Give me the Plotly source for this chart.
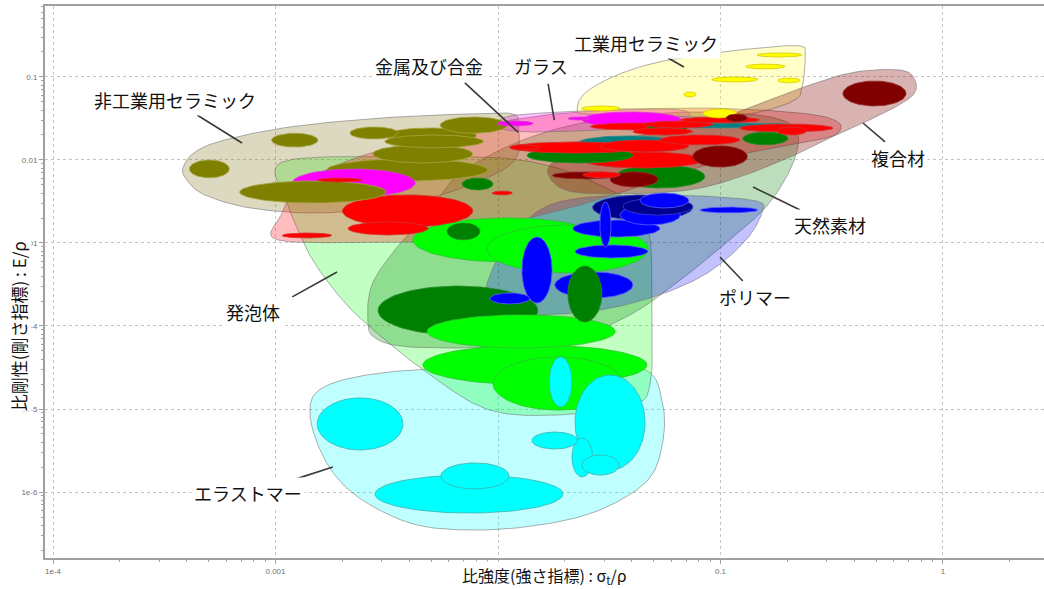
import numpy as np
import plotly.graph_objects as go

# ---------------------------------------------------------------------------
# Material property ranges: (sigma/rho lo, sigma/rho hi, E/rho lo, E/rho hi)
# ---------------------------------------------------------------------------
NONTECH_CERAMICS = [
    (4.1e-4, 6.2e-4, 6.1e-3, 1.0e-2),
    (9.6e-4, 1.55e-3, 1.43e-2, 2.1e-2),
    (2.16e-3, 3.55e-3, 1.79e-2, 2.5e-2),
    (5.5e-3, 1.1e-2, 2.1e-2, 3.3e-2),
    (3.1e-3, 8.0e-3, 1.6e-2, 2.43e-2),
    (3.1e-3, 8.6e-3, 1.4e-2, 2.0e-2),
    (2.74e-3, 7.7e-3, 9.2e-3, 1.52e-2),
    (1.7e-3, 9.0e-3, 5.58e-3, 1.03e-2),
    (6.9e-4, 3.14e-3, 3.03e-3, 5.58e-3),
]
GLASSES = [
    (1.19e-3, 4.24e-3, 3.58e-3, 7.79e-3),
    (9.9e-3, 1.44e-2, 2.57e-2, 2.95e-2),
    (2.38e-2, 6.6e-2, 2.5e-2, 3.79e-2),
    (2.06e-2, 2.6e-2, 3.03e-2, 3.3e-2),
]
METALS = [
    (1.13e-2, 4.48e-2, 1.21e-2, 1.65e-2),
    (2.41e-2, 8.34e-2, 8.0e-3, 1.25e-2),
    (5.34e-2, 0.122, 1.52e-2, 2.0e-2),
    (0.122, 0.32, 2.17e-2, 2.71e-2),
    (0.179, 0.244, 2.0e-2, 2.5e-2),
    (4.48e-2, 9.24e-2, 2.43e-2, 2.95e-2),
    (6.6e-2, 0.15, 2.79e-2, 3.3e-2),
    (2.6e-2, 6.4e-2, 2.3e-2, 2.79e-2),
    (4.04e-2, 7.5e-2, 2.0e-2, 2.43e-2),
    (2.41e-2, 3.54e-2, 6.1e-3, 7.2e-3),
    (2.0e-3, 7.7e-3, 1.56e-3, 3.79e-3),
    (2.12e-3, 4.85e-3, 1.25e-3, 1.79e-3),
    (1.07e-3, 1.79e-3, 1.15e-3, 1.32e-3),
    (9.4e-3, 1.16e-2, 3.79e-3, 4.23e-3),
    (1.54e-3, 2.45e-3, 5.43e-3, 6.07e-3),
    (1.13e-2, 1.54e-2, 1.32e-2, 1.52e-2),
    (2.87e-2, 7.2e-2, 1.25e-2, 1.74e-2),
]
NONFERROUS = [
    (2.26e-2, 6.58e-2, 1.28e-2, 1.95e-2),
    (4.48e-2, 0.228, 2.43e-2, 2.79e-2),
]
NATURAL = [
    (1.35e-2, 4.04e-2, 9.2e-3, 1.4e-2),
    (3.36e-2, 8.5e-2, 4.6e-3, 8.7e-3),
    (4.67e-2, 7.06e-2, 2.0e-2, 2.87e-2),
    (0.126, 0.201, 1.52e-2, 2.17e-2),
    (6.9e-3, 9.5e-3, 4.35e-3, 6.07e-3),
    (5.9e-3, 8.3e-3, 1.09e-3, 1.74e-3),
    (2.89e-3, 1.51e-2, 7.8e-5, 3.03e-4),
    (2.06e-2, 2.93e-2, 1.12e-4, 5.28e-4),
]
COMPOSITES = [
    (0.355, 0.682, 4.47e-2, 8.95e-2),
    (0.106, 0.132, 2.87e-2, 3.58e-2),
    (7.5e-2, 0.132, 8.2e-3, 1.48e-2),
    (1.75e-2, 3.43e-2, 5.9e-3, 7.2e-3),
    (3.19e-2, 5.24e-2, 4.73e-3, 7.2e-3),
]
TECH_CERAMICS = [
    (0.146, 0.232, 0.174, 0.195),
    (0.13, 0.195, 0.125, 0.143),
    (9.14e-2, 0.147, 8.7e-2, 0.1),
    (0.181, 0.228, 8.5e-2, 9.7e-2),
    (6.85e-2, 7.76e-2, 5.74e-2, 6.6e-2),
    (2.38e-2, 3.54e-2, 3.9e-2, 4.47e-2),
    (8.34e-2, 0.119, 3.21e-2, 4.12e-2),
]
POLYMERS = [
    (2.17e-2, 5.34e-2, 1.18e-3, 1.89e-3),
    (2.87e-2, 3.22e-2, 8.95e-4, 3.12e-3),
    (2.22e-2, 4.72e-2, 6.6e-4, 9.46e-4),
    (8.09e-2, 0.147, 2.3e-3, 2.71e-3),
    (1.28e-2, 1.75e-2, 1.89e-4, 1.18e-3),
    (1.80e-2, 4.04e-2, 2.17e-4, 4.48e-4),
    (9.2e-3, 1.39e-2, 1.84e-4, 2.5e-4),
    (3.54e-2, 6.6e-2, 1.65e-3, 2.87e-3),
    (4.35e-2, 7.2e-2, 2.64e-3, 4.0e-3),
]
POLYMERS_DARK = [
    (2.66e-2, 7.5e-2, 1.89e-3, 3.79e-3),
    (3.65e-2, 7.5e-2, 2.17e-3, 3.48e-3),
]
FOAMS = [
    (4.15e-3, 2.93e-2, 5.9e-4, 2.0e-3),
    (8.93e-3, 4.72e-2, 4.35e-4, 1.65e-3),
    (4.8e-3, 3.36e-2, 5.43e-5, 1.36e-4),
    (4.6e-3, 4.67e-2, 1.95e-5, 5.9e-5),
    (9.5e-3, 3.65e-2, 9.7e-6, 4.23e-5),
]
ELASTOMERS = [
    (1.54e-3, 3.74e-3, 3.21e-6, 1.36e-5),
    (2.8e-3, 1.96e-2, 5.58e-7, 1.6e-6),
    (5.54e-3, 1.12e-2, 1.09e-6, 2.24e-6),
    (1.42e-2, 2.28e-2, 3.3e-6, 5.28e-6),
    (2.22e-2, 4.58e-2, 1.84e-6, 2.57e-5),
    (2.15e-2, 2.66e-2, 1.52e-6, 4.47e-6),
    (2.38e-2, 3.5e-2, 1.6e-6, 2.79e-6),
    (1.7e-2, 2.15e-2, 1.06e-5, 4.23e-5),
]

# ---------------------------------------------------------------------------
# Family envelopes: outline points (sigma/rho, E/rho)
# ---------------------------------------------------------------------------
ENV_ELASTOMERS = [
    (1.43e-3, 8.47e-6), (1.62e-3, 1.79e-5), (2.95e-3, 2.71e-5), (8.3e-3, 3.21e-5),
    (2.34e-2, 3.3e-5), (4.58e-2, 2.95e-5), (5.46e-2, 1.28e-5), (5.52e-2, 4.23e-6),
    (4.72e-2, 1.395e-6), (2.87e-2, 6.07e-7), (1.54e-2, 4.0e-7), (7.5e-3, 3.48e-7),
    (4.02e-3, 4.23e-7), (2.28e-3, 9.2e-7), (1.67e-3, 2.43e-6),
]
ENV_FOAMS = [
    (1.08e-3, 9.5e-3), (3.6e-3, 1.09e-2), (1.26e-2, 1.0e-2), (2.87e-2, 5.0e-3),
    (4.58e-2, 1.89e-3), (4.92e-2, 2.06e-4), (4.82e-2, 1.95e-5), (3.92e-2, 1.12e-5),
    (1.9e-2, 8.5e-6), (9.2e-3, 9.7e-6), (4.95e-3, 2.57e-5), (2.66e-3, 9.7e-5),
    (2.0e-3, 2.06e-4), (1.54e-3, 5.1e-4), (1.32e-3, 1.09e-3), (1.12e-3, 3.3e-3),
]
ENV_NATURAL = [
    (2.6e-3, 1.18e-4), (2.71e-3, 3.12e-4), (3.44e-3, 8.24e-4), (4.95e-3, 2.5e-3),
    (6.4e-3, 6.07e-3), (1.02e-2, 1.32e-2), (1.9e-2, 2.43e-2), (3.92e-2, 3.39e-2),
    (8.09e-2, 3.79e-2), (0.167, 3.3e-2), (0.221, 2.17e-2), (0.21, 8.7e-3),
    (0.163, 2.87e-3), (0.110, 1.09e-3), (6.6e-2, 3.58e-4), (3.92e-2, 1.36e-4),
    (2.1e-2, 6.78e-5), (1.02e-2, 5.58e-5), (4.02e-3, 5.58e-5), (2.8e-3, 7.17e-5),
]
ENV_POLYMERS = [
    (8.74e-3, 2.06e-4), (9.4e-3, 4.73e-4), (1.13e-2, 1.09e-3), (1.54e-2, 2.5e-3),
    (2.34e-2, 3.48e-3), (4.82e-2, 3.79e-3), (9.95e-2, 3.58e-3), (0.15, 3.12e-3),
    (0.154, 2.36e-3), (0.136, 1.25e-3), (0.105, 6.24e-4), (7.68e-2, 3.58e-4),
    (4.82e-2, 2.17e-4), (2.87e-2, 1.56e-4), (1.54e-2, 1.36e-4), (1.02e-2, 1.475e-4),
]
ENV_NONTECH_CERAMICS = [
    (3.84e-4, 8.0e-3), (4.35e-4, 1.25e-2), (5.9e-4, 1.74e-2), (1.16e-3, 2.5e-2),
    (2.95e-3, 3.2e-2), (7.5e-3, 3.6e-2), (1.16e-2, 3.6e-2), (1.23e-2, 2.64e-2),
    (1.19e-2, 1.0e-2), (7.5e-3, 5.0e-3), (3.63e-3, 2.87e-3), (1.59e-3, 2.3e-3),
    (7.7e-4, 2.64e-3), (4.8e-4, 3.8e-3), (4.0e-4, 5.7e-3),
]
ENV_METALS = [
    (1.026e-3, 1.087e-3), (1.06e-3, 2.17e-3), (1.29e-3, 5.0e-3), (2.16e-3, 1.0e-2),
    (4.46e-3, 1.74e-2), (1.02e-2, 2.87e-2), (2.34e-2, 3.79e-2), (8.09e-2, 4.23e-2),
    (0.228, 3.68e-2), (0.337, 2.87e-2), (0.327, 2.0e-2), (0.228, 1.6e-2),
    (0.122, 1.15e-2), (5.34e-2, 5.74e-3), (2.34e-2, 2.87e-3), (1.02e-2, 1.65e-3),
    (5.49e-3, 1.087e-3), (2.95e-3, 1.028e-3),
]
ENV_GLASSES = [
    (9.9e-3, 2.71e-2), (1.13e-2, 3.39e-2), (1.9e-2, 3.79e-2), (3.54e-2, 4.12e-2),
    (6.6e-2, 4.0e-2), (7.2e-2, 3.3e-2), (5.93e-2, 2.57e-2), (2.87e-2, 2.3e-2),
    (1.54e-2, 2.17e-2), (1.075e-2, 2.3e-2),
]
ENV_TECH_CERAMICS = [
    (2.28e-2, 3.79e-2), (2.41e-2, 6.07e-2), (3.19e-2, 9.7e-2), (4.82e-2, 0.143),
    (8.09e-2, 0.184), (0.15, 0.224), (0.228, 0.236), (0.24, 0.184),
    (0.234, 8.0e-2), (0.216, 5.28e-2), (0.15, 3.79e-2), (9.95e-2, 3.3e-2),
    (4.82e-2, 3.39e-2), (2.59e-2, 3.58e-2),
]
ENV_COMPOSITES = [
    (1.68e-2, 8.0e-3), (2.34e-2, 1.32e-2), (4.82e-2, 2.11e-2), (9.95e-2, 3.21e-2),
    (0.205, 6.6e-2), (0.382, 0.1117), (0.641, 0.1214), (0.748, 9.2e-2),
    (0.726, 5.9e-2), (0.521, 3.48e-2), (0.344, 2.11e-2), (0.216, 1.15e-2),
    (0.122, 6.24e-3), (7.2e-2, 4.35e-3), (3.54e-2, 3.9e-3), (2.0e-2, 4.35e-3),
]

# Family labels and leader lines (label centre, leader start, leader end)
LABELS = [
    ("非工業用セラミック", 3.53e-4, 5.28e-2),
    ("金属及び合金", 4.9e-3, 0.1357),
    ("ガラス", 1.56e-2, 0.1357),
    ("工業用セラミック", 4.63e-2, 0.257),
    ("複合材", 0.628, 1.057e-2),
    ("天然素材", 0.31, 1.65e-3),
    ("ポリマー", 0.143, 2.24e-4),
    ("発泡体", 7.92e-4, 1.475e-4),
    ("エラストマー", 7.52e-4, 9.7e-7),
]
LEADERS = [
    ((4.44e-4, 3.48e-2), (7.07e-4, 1.6e-2)),
    ((7.1e-3, 8.47e-2), (1.23e-2, 2.17e-2)),
    ((1.68e-2, 8.23e-2), (1.79e-2, 3.03e-2)),
    ((5.81e-2, 0.1694), (6.85e-2, 0.132)),
    ((0.437, 2.79e-2), (0.549, 1.65e-2)),
    ((0.14, 4.73e-3), (0.228, 2.5e-3)),
    ((9.95e-2, 6.78e-4), (0.126, 3.48e-4)),
    ((1.19e-3, 2.24e-4), (1.89e-3, 4.48e-4)),
    ((1.2e-3, 1.4e-6), (1.81e-3, 2.0e-6)),
]

X_TICKS = [1e-4, 1e-3, 1e-2, 0.1, 1]
X_TICK_TEXT = ["1e-4", "0.001", "0.01", "0.1", "1"]
Y_TICKS = [0.1, 0.01, 0.001, 1e-4, 1e-5, 1e-6]
Y_TICK_TEXT = ["0.1", "0.01", "0.001", "1e-4", "1e-5", "1e-6"]

# ---------------------------------------------------------------------------
# Styling per family: (bubble fill, bubble edge)
# ---------------------------------------------------------------------------
BUBBLE_STYLE = [
    (NONTECH_CERAMICS, "#808000", "#a4a440"),
    (GLASSES, "#ff00ff", "#d040d0"),
    (METALS, "#ff0000", "#d03030"),
    (NONFERROUS, "#008080", "#308c8c"),
    (NATURAL, "#008000", "#2a8a2a"),
    (COMPOSITES, "#800000", "#963030"),
    (TECH_CERAMICS, "#ffff00", "#d8c800"),
    (POLYMERS, "#0000ff", "#6060ff"),
    (POLYMERS_DARK, "#000090", "#4040c0"),
    (FOAMS, "#00ff00", "#30c030"),
    (ELASTOMERS, "#00ffff", "#40b0b0"),
]
ENVELOPE_STYLE = [
    (ENV_ELASTOMERS, "rgba(0,255,255,0.25)"),
    (ENV_FOAMS, "rgba(0,255,0,0.24)"),
    (ENV_NATURAL, "rgba(0,128,0,0.26)"),
    (ENV_POLYMERS, "rgba(0,0,255,0.24)"),
    (ENV_NONTECH_CERAMICS, "rgba(128,120,30,0.28)"),
    (ENV_METALS, "rgba(255,0,0,0.26)"),
    (ENV_GLASSES, "rgba(255,0,255,0.25)"),
    (ENV_TECH_CERAMICS, "rgba(255,255,0,0.22)"),
    (ENV_COMPOSITES, "rgba(128,0,0,0.3)"),
]


def ellipse_path(xlo, xhi, ylo, yhi, n=90):
    """Ellipse spanning the given ranges on log-log axes."""
    lx0, lx1 = np.log10(xlo), np.log10(xhi)
    ly0, ly1 = np.log10(ylo), np.log10(yhi)
    cx, cy = (lx0 + lx1) / 2, (ly0 + ly1) / 2
    a, b = (lx1 - lx0) / 2, (ly1 - ly0) / 2
    t = np.linspace(0, 2 * np.pi, n)
    return 10 ** (cx + a * np.cos(t)), 10 ** (cy + b * np.sin(t)), a * b


def closed_spline(points, steps=14):
    """Smooth closed Catmull-Rom curve through outline points (in log space)."""
    p = np.log10(np.array(points, dtype=float))
    m = len(p)
    out = []
    for i in range(m):
        p0, p1, p2, p3 = p[(i - 1) % m], p[i], p[(i + 1) % m], p[(i + 2) % m]
        for t in np.linspace(0, 1, steps, endpoint=False):
            t2, t3 = t * t, t * t * t
            out.append(0.5 * (2 * p1 + (-p0 + p2) * t
                              + (2 * p0 - 5 * p1 + 4 * p2 - p3) * t2
                              + (-p0 + 3 * p1 - 3 * p2 + p3) * t3))
    out.append(out[0])
    arr = np.array(out)
    return 10 ** arr[:, 0], 10 ** arr[:, 1]


fig = go.Figure()

# Envelopes underneath everything
for pts, fill in ENVELOPE_STYLE:
    ex, ey = closed_spline(pts)
    fig.add_trace(go.Scatter(
        x=ex, y=ey, mode="lines", fill="toself", fillcolor=fill,
        line=dict(color="rgba(110,110,110,0.55)", width=1),
        hoverinfo="skip", showlegend=False))

# Material bubbles, largest first so small ones stay visible
bubbles = []
for rows, fill, edge in BUBBLE_STYLE:
    for r in rows:
        bx, by, area = ellipse_path(*r)
        bubbles.append((area, bx, by, fill, edge))
bubbles.sort(key=lambda b: -b[0])
for _, bx, by, fill, edge in bubbles:
    fig.add_trace(go.Scatter(
        x=bx, y=by, mode="lines", fill="toself", fillcolor=fill,
        line=dict(color=edge, width=0.8),
        hoverinfo="skip", showlegend=False))

# Leader lines
for (x0, y0), (x1, y1) in LEADERS:
    fig.add_trace(go.Scatter(
        x=[x0, x1], y=[y0, y1], mode="lines",
        line=dict(color="#3a3a3a", width=1.6),
        hoverinfo="skip", showlegend=False))

# Family labels
for text, lx, ly in LABELS:
    fig.add_annotation(
        x=np.log10(lx), y=np.log10(ly), xref="x", yref="y", text=text,
        showarrow=False, bgcolor="white", borderpad=2,
        font=dict(family="Noto Sans CJK JP", size=18, color="#111111"))

# Axis titles drawn as boxed annotations over the tick label strip
fig.add_annotation(
    x=-0.027, y=0.42, xref="paper", yref="paper",
    text="比剛性(剛さ指標) : E/ρ", textangle=-90, showarrow=False,
    bgcolor="white", borderpad=0, xanchor="center", yanchor="middle",
    font=dict(family="Noto Sans CJK JP", size=17, color="#111111"))
fig.add_annotation(
    x=0.5, y=-0.031, xref="paper", yref="paper",
    text="比強度(強さ指標) : σ<sub>t</sub>/ρ", showarrow=False,
    bgcolor="white", borderpad=1, xanchor="center", yanchor="middle",
    font=dict(family="Noto Sans CJK JP", size=16, color="#111111"))

axis_common = dict(
    type="log", showgrid=True, gridcolor="#c4c4c4", griddash="dot", gridwidth=1,
    zeroline=False, showline=True, linecolor="#a0a0a0", linewidth=2,
    ticks="outside", ticklen=4, tickcolor="#a0a0a0",
    tickfont=dict(family="Liberation Sans", size=8, color="#707070"),
    tickmode="array",
    minor=dict(ticks="outside", ticklen=2, tickcolor="#a0a0a0", dtick="D1", showgrid=False),
)

fig.update_layout(
    width=1044, height=589, autosize=False,
    margin=dict(l=45, r=0, t=6, b=31),
    paper_bgcolor="white", plot_bgcolor="white",
    showlegend=False,
    xaxis=dict(axis_common, range=[-4.036, 0.454], tickvals=X_TICKS,
               ticktext=X_TICK_TEXT, mirror=True),
    yaxis=dict(axis_common, range=[-6.795, -0.145], tickvals=Y_TICKS,
               ticktext=Y_TICK_TEXT),
)

fig.write_html("out.html")
